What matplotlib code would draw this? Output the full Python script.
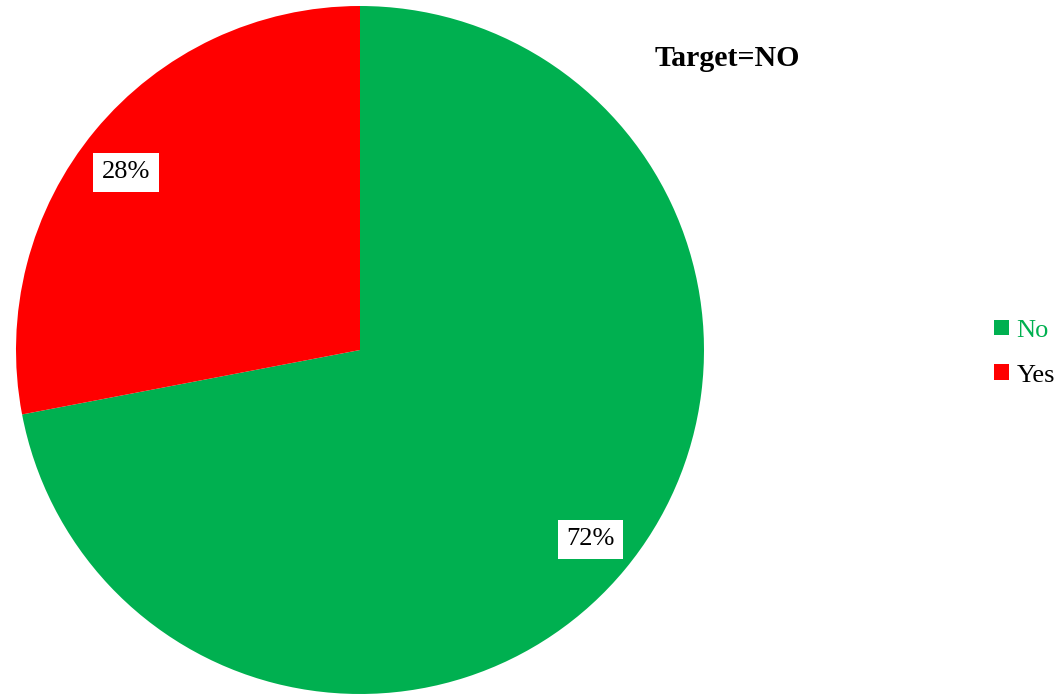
import matplotlib.pyplot as plt
from matplotlib.patches import Patch

plt.rcParams['font.family'] = ['Liberation Serif', 'DejaVu Serif']

labels = ['No', 'Yes']
shares = [72, 28]
colors = ['#00B050', '#FF0000']

fig = plt.figure(figsize=(10.6, 6.95), dpi=100)
ax = fig.add_axes([16 / 1060, 1 / 695, 688 / 1060, 688 / 695])

wedges, texts, autotexts = ax.pie(
    shares, colors=colors, startangle=90, counterclock=False,
    autopct='%1.0f%%', pctdistance=0.86, radius=1,
    textprops=dict(fontsize=19, color='black'),
)
# percentage labels sit a little off the wedge bisector
autotexts[0].set_position((0.669, -0.550))
autotexts[1].set_position((-0.680, 0.517))
for t in autotexts:
    t.set_bbox(dict(facecolor='white', edgecolor='none', pad=6))
ax.set_xlim(-1, 1)
ax.set_ylim(-1, 1)
ax.set_aspect('equal')

fig.text(727 / 1060, 1 - 58 / 695, 'Target=NO', fontsize=21.5, fontweight='bold',
         ha='center', va='center')

handles = [Patch(facecolor=c, edgecolor='none') for c in colors]
leg = fig.legend(handles, labels, loc='center left',
                 bbox_to_anchor=(981 / 1060, 1 - 353 / 695), frameon=False,
                 fontsize=19, handlelength=0.55, handleheight=0.55,
                 handletextpad=0.3, labelspacing=0.85, borderpad=0)
leg.get_texts()[0].set_color(colors[0])

fig.savefig('out.png', dpi=100)
